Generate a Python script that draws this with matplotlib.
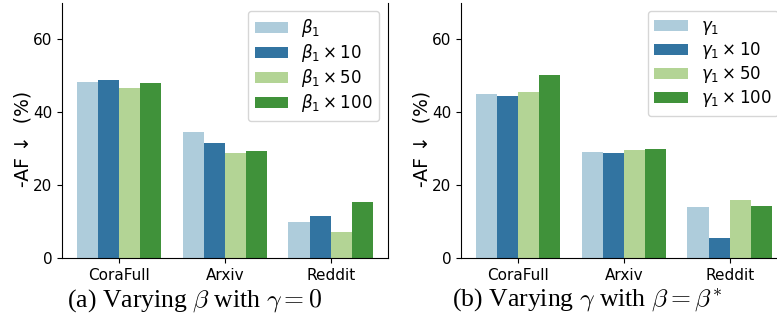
import matplotlib.pyplot as plt
import seaborn as sns
import numpy as np

# data
datasets = ["CoraFull", "Arxiv", "Reddit"]

beta_labels = [r"$\beta_1$", r"$\beta_1\times 10$", r"$\beta_1\times 50$", r"$\beta_1\times 100$"]
beta_1 = [48.2, 34.5, 9.9]
beta_10 = [48.8, 31.5, 11.6]
beta_50 = [46.6, 28.8, 7.2]
beta_100 = [47.9, 29.4, 15.4]

gamma_labels = [r"$\gamma_1$", r"$\gamma_1\times 10$", r"$\gamma_1\times 50$", r"$\gamma_1\times 100$"]
gamma_1 = [44.9, 29.1, 14.0]
gamma_10 = [44.4, 28.8, 5.6]
gamma_50 = [45.5, 29.6, 16.0]
gamma_100 = [50.1, 29.9, 14.3]

colors = sns.color_palette("Paired", 4, desat=0.75)

fig = plt.figure(figsize=(7.77, 3.2), dpi=100)
W, H = 777, 320


def panel(left_px, series, labels, caption, cap_x):
    ax = fig.add_axes([left_px / W, (H - 258.3) / H, 325.8 / W, 255.8 / H])
    x = np.arange(len(datasets))
    w = 0.2
    for i, (vals, lab) in enumerate(zip(series, labels)):
        ax.bar(x - 0.3 + i * w, vals, width=w, color=colors[i], label=lab)
    ax.set_xlim(-0.54, 2.54)
    ax.set_ylim(0, 70)
    ax.set_yticks([0, 20, 40, 60])
    ax.set_xticks(x)
    ax.set_xticklabels(datasets)
    ax.tick_params(labelsize=11)
    ax.spines["top"].set_visible(False)
    ax.set_ylabel("-AF ↓  (%)", fontsize=13.5)
    ax.yaxis.set_label_coords(-29 / 325.8, (258.3 - 138.5) / 255.8)
    ax.legend(loc="upper right", fontsize=12, labelspacing=0.18)
    fig.text(cap_x / W, 1 - 300 / H, caption, ha="center", va="center",
             fontsize=18.5, family="Liberation Serif", math_fontfamily="cm")
    return ax


panel(62, [beta_1, beta_10, beta_50, beta_100], beta_labels,
      r"(a) Varying $\beta$ with $\gamma=0$", 195)
panel(461, [gamma_1, gamma_10, gamma_50, gamma_100], gamma_labels,
      r"(b) Varying $\gamma$ with $\beta=\beta^{*}$", 587)

fig.savefig("out.png", dpi=100)
plt.close()
